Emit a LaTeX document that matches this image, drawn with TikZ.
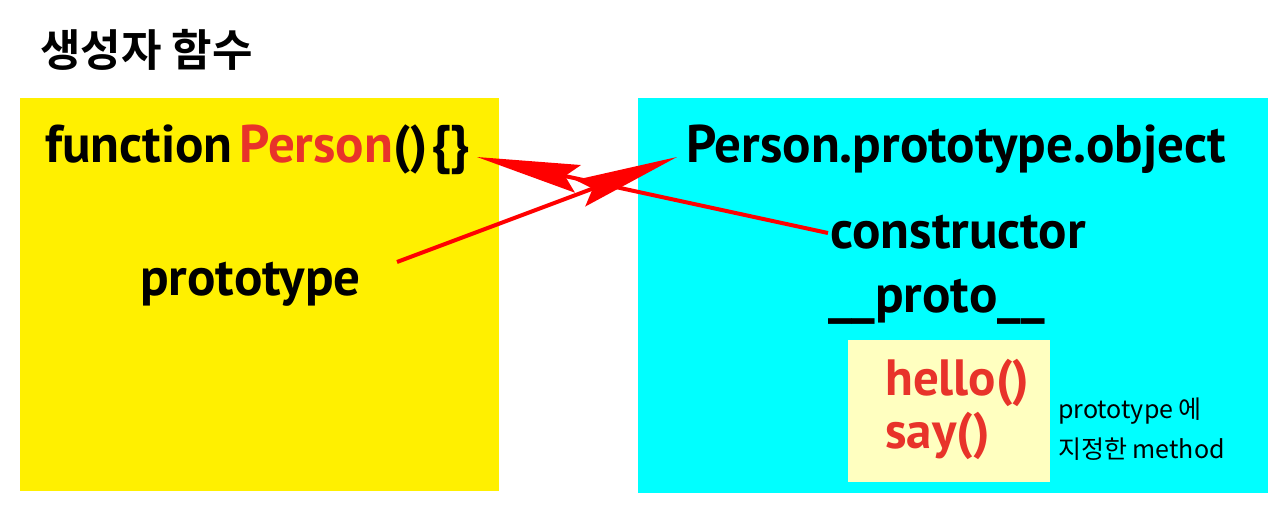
\documentclass[tikz,border=0pt]{standalone}
\usepackage{fontspec}
\setmainfont{PT Sans}
\newfontfamily\kr{Noto Sans CJK KR}[BoldFont={Noto Sans CJK KR Bold}]
\usetikzlibrary{arrows.meta}
\definecolor{boxyellow}{RGB}{255,240,0}
\definecolor{boxcyan}{RGB}{0,255,255}
\definecolor{paleyellow}{RGB}{255,255,192}
\definecolor{txtred}{RGB}{232,51,42}
\definecolor{arrred}{RGB}{255,0,0}
\tikzset{
  lbl/.style={inner sep=0pt, font=\fontsize{53}{60}\selectfont\bfseries},
  redlbl/.style={inner sep=0pt, text=txtred, font=\fontsize{51}{58}\selectfont\bfseries},
  note/.style={inner sep=0pt, font=\kr\fontsize{25}{30}\selectfont},
  link/.style={draw=arrred, line width=4pt, -{Stealth[length=103pt,width=28pt,inset=13pt]}},
}
\begin{document}
\begin{tikzpicture}[x=1pt,y=-1pt]
\useasboundingbox (0,0) rectangle (1288,520);
\fill[white] (0,0) rectangle (1288,520);
% boxes
\fill[boxyellow] (20,98) rectangle (499,491);
\fill[boxcyan] (638,98) rectangle (1268,493);
\fill[paleyellow] (848,340) rectangle (1050,482);
% title
\node[inner sep=0pt, anchor=base west, font=\kr\fontsize{44}{50}\selectfont\bfseries] (title) at (40,66) {생성자 함수};
% texts
\node[lbl, anchor=base west] (fn) at (45,162) {function\hspace{0.13em}\textcolor{txtred}{Person}()\hspace{0.06em}\{\}};
\node[lbl, anchor=base west] (obj) at (686,162) {Person.prototype.object};
\node[lbl, anchor=base west] (proto) at (140,295) {prototype};
\node[lbl, anchor=base west] (ctor) at (830,248) {constructor};
\node[lbl, anchor=base west] (dproto) at (828,312) {\_\_proto\_\_};
\node[redlbl, anchor=base west] (hello) at (885,395) {hello()};
\node[redlbl, anchor=base west] (say) at (885,448) {say()};
\node[note, anchor=base west] (n1) at (1058,418) {prototype 에};
\node[note, anchor=base west] (n2) at (1058,458) {지정한 method};
% connectors
\coordinate (fnend) at (477,157);
\coordinate (objend) at (677,157);
\coordinate (ctorstart) at (828,233);
\coordinate (protostart) at (397,262);
\draw[link] (ctorstart) -- (fnend);
\draw[link] (protostart) -- (objend);
\end{tikzpicture}
\end{document}
